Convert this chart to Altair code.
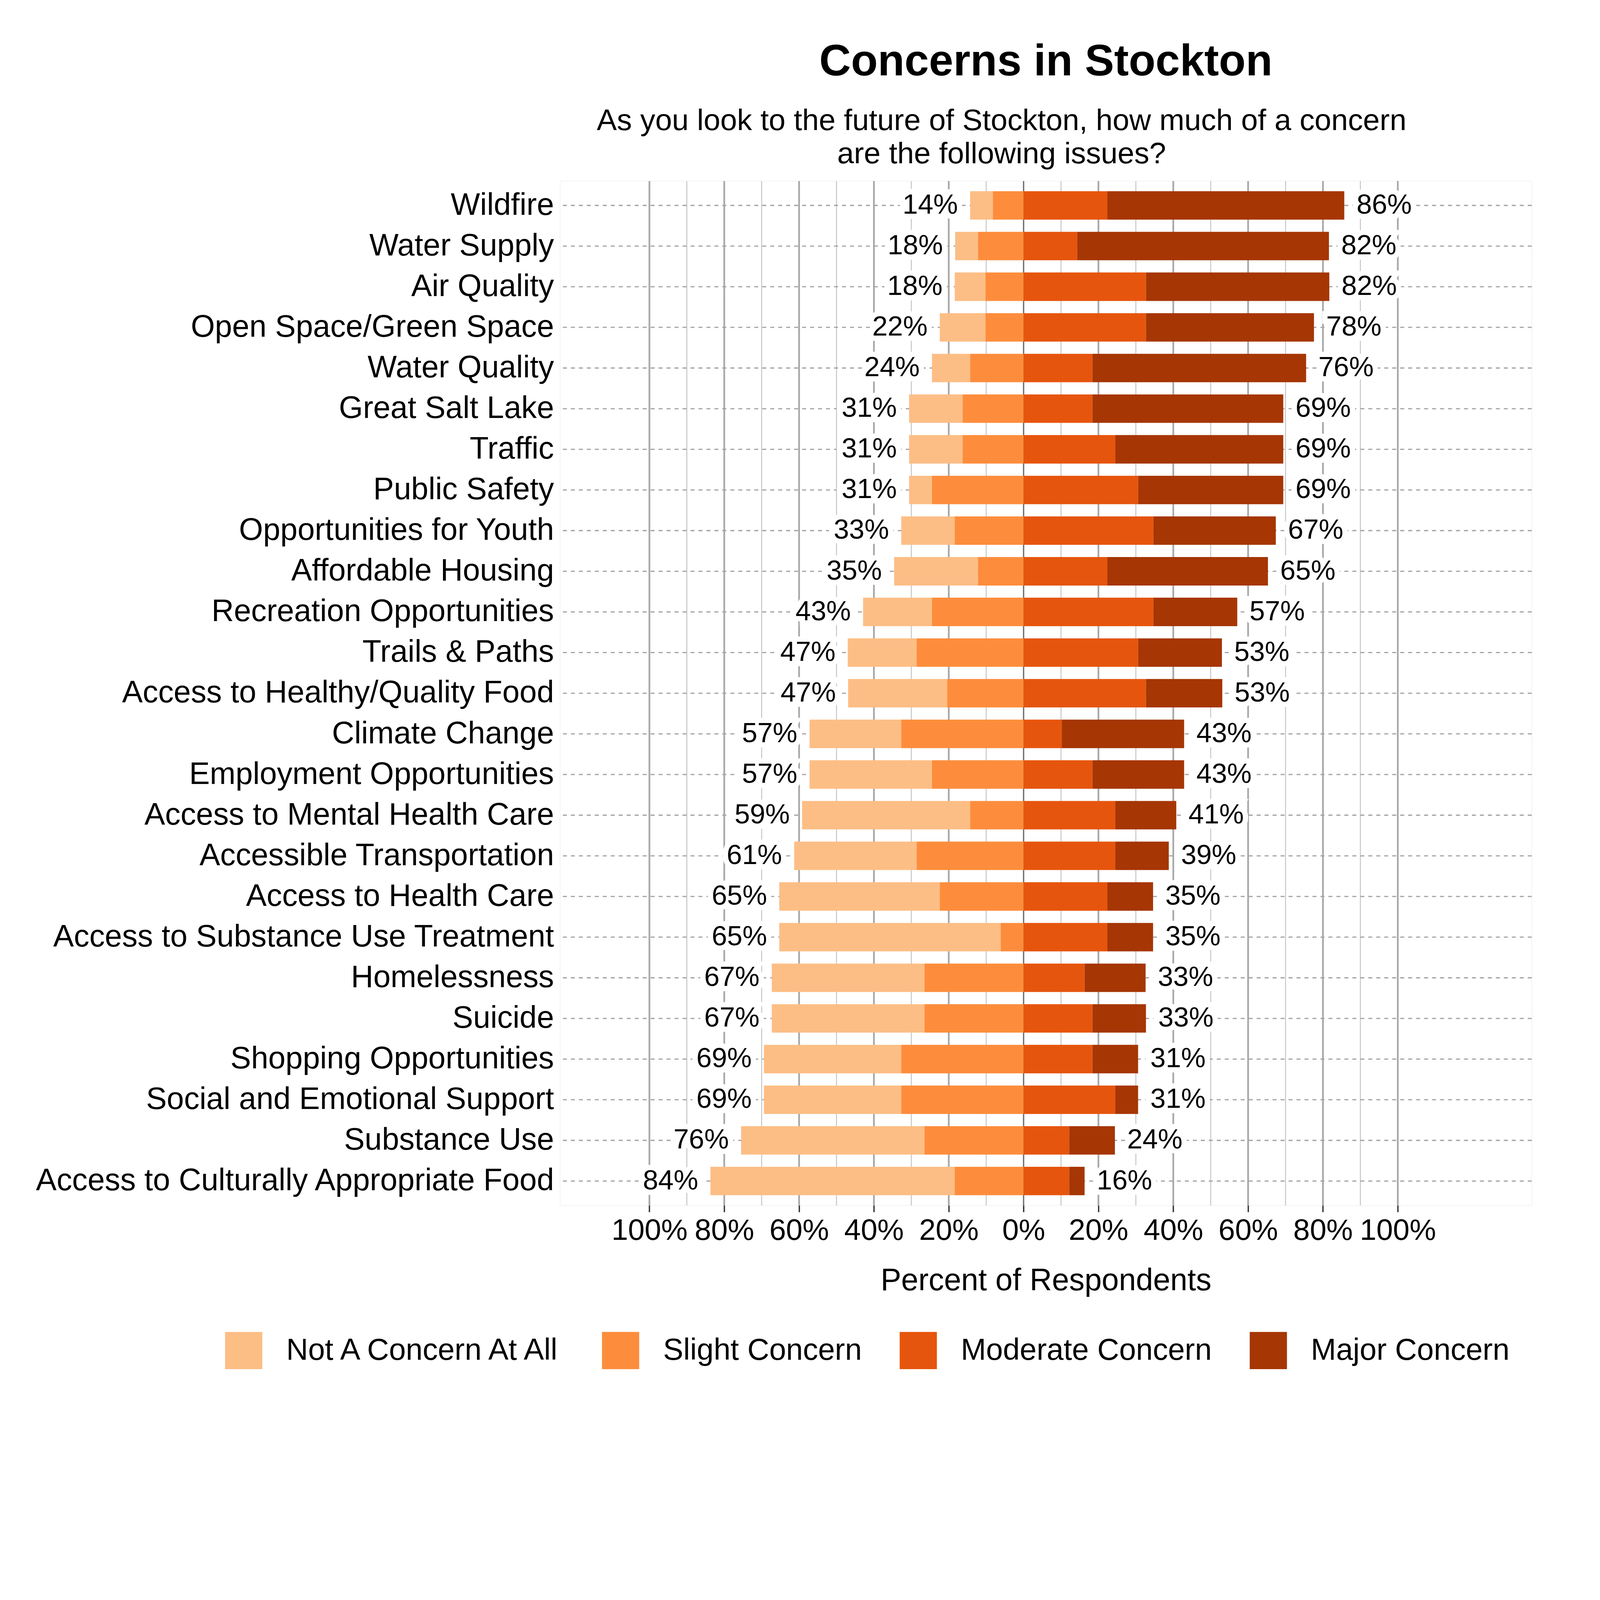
import altair as alt
import pandas as pd

categories = [
    "Wildfire", "Water Supply", "Air Quality", "Open Space/Green Space", "Water Quality",
    "Great Salt Lake", "Traffic", "Public Safety", "Opportunities for Youth", "Affordable Housing",
    "Recreation Opportunities", "Trails & Paths", "Access to Healthy/Quality Food", "Climate Change",
    "Employment Opportunities", "Access to Mental Health Care", "Accessible Transportation",
    "Access to Health Care", "Access to Substance Use Treatment", "Homelessness", "Suicide",
    "Shopping Opportunities", "Social and Emotional Support", "Substance Use",
    "Access to Culturally Appropriate Food",
]
not_concern = [6.1, 6.1, 8.2, 12.2, 10.2, 14.3, 14.3, 6.1, 14.3, 22.4, 18.4, 18.4, 26.5,
               24.5, 32.7, 44.9, 32.7, 42.9, 59.2, 40.8, 40.8, 36.7, 36.7, 49.0, 65.3]
slight = [8.2, 12.2, 10.2, 10.2, 14.3, 16.3, 16.3, 24.5, 18.4, 12.2, 24.5, 28.6, 20.4,
          32.7, 24.5, 14.3, 28.6, 22.4, 6.1, 26.5, 26.5, 32.7, 32.7, 26.5, 18.4]
moderate = [22.4, 14.3, 32.7, 32.7, 18.4, 18.4, 24.5, 30.6, 34.7, 22.4, 34.7, 30.6, 32.7,
            10.2, 18.4, 24.5, 24.5, 22.4, 22.4, 16.3, 18.4, 18.4, 24.5, 12.2, 12.2]
major = [63.3, 67.3, 49.0, 44.9, 57.1, 51.0, 44.9, 38.8, 32.7, 42.9, 22.4, 22.4, 20.4,
         32.7, 24.5, 16.3, 14.3, 12.2, 12.2, 16.3, 14.3, 12.2, 6.1, 12.2, 4.1]
left_labels = ["14%", "18%", "18%", "22%", "24%", "31%", "31%", "31%", "33%", "35%", "43%",
               "47%", "47%", "57%", "57%", "59%", "61%", "65%", "65%", "67%", "67%", "69%",
               "69%", "76%", "84%"]
right_labels = ["86%", "82%", "82%", "78%", "76%", "69%", "69%", "69%", "67%", "65%", "57%",
                "53%", "53%", "43%", "43%", "41%", "39%", "35%", "35%", "33%", "33%", "31%",
                "31%", "24%", "16%"]
levels = ["Not A Concern At All", "Slight Concern", "Moderate Concern", "Major Concern"]
level_colors = ["#FDBE85", "#FD8D3C", "#E6550D", "#A63603"]
major_ticks = [-100, -80, -60, -40, -20, 0, 20, 40, 60, 80, 100]
minor_ticks = [-90, -70, -50, -30, -10, 10, 30, 50, 70, 90]

title_text = "Concerns in Stockton"
subtitle_lines = [
    "As you look to the future of Stockton, how much of a concern",
    "are the following issues?",
]
x_title = "Percent of Respondents"

rows = []
for c, n, s, m, j in zip(categories, not_concern, slight, moderate, major):
    rows.append(dict(category=c, level=levels[0], x0=-(n + s), x1=-s))
    rows.append(dict(category=c, level=levels[1], x0=-s, x1=0.0))
    rows.append(dict(category=c, level=levels[2], x0=0.0, x1=m))
    rows.append(dict(category=c, level=levels[3], x0=m, x1=m + j))
bars_df = pd.DataFrame(rows)

lab_df = pd.DataFrame({
    "category": categories,
    "neg": [-(n + s) for n, s in zip(not_concern, slight)],
    "pos": [m + j for m, j in zip(moderate, major)],
    "ltxt": left_labels,
    "rtxt": right_labels,
})
major_df = pd.DataFrame({"v": [t for t in major_ticks if t != 0]})
minor_df = pd.DataFrame({"v": minor_ticks})
zero_df = pd.DataFrame({"v": [0]})

FONT = "Liberation Sans"
xscale = alt.Scale(domain=[-123.9, 135.8], nice=False, zero=False)
yscale = alt.Scale(domain=categories, paddingInner=0.3, paddingOuter=0.25)

xaxis = alt.Axis(
    values=major_ticks, labelExpr="abs(datum.value) + '%'", labelFontSize=112,
    labelColor="black", labelFont=FONT, labelLimit=1000, tickSize=25, tickWidth=5,
    tickColor="#333333", domain=False, grid=False, labelPadding=16, labelOverlap=False,
    labelFlush=False, title=x_title, titleFontSize=116, titleFontWeight="normal",
    titleColor="black", titleFont=FONT, titlePadding=75,
)
yaxis = alt.Axis(
    ticks=False, domain=False, grid=False, labelFontSize=116.5,
    labelColor="black", labelFont=FONT, labelPadding=23, labelLimit=3000,
    title=subtitle_lines, titleAngle=0, titleAlign="center", titleBaseline="alphabetic",
    titleX=1661, titleY=-192, titleFontSize=113, titleFontWeight="normal",
    titleColor="black", titleFont=FONT, titleLineHeight=125,
)


def X(field):
    return alt.X(field, type="quantitative", scale=xscale, axis=xaxis, title=x_title)


def Y():
    return alt.Y("category:N", scale=yscale, axis=yaxis, title=subtitle_lines)


grid_minor = alt.Chart(minor_df).mark_rule(color="#C4C4C4", strokeWidth=3.5).encode(x=X("v"))
grid_major = alt.Chart(major_df).mark_rule(color="#A8A8A8", strokeWidth=6.5).encode(x=X("v"))
grid_zero = alt.Chart(zero_df).mark_rule(color="#707070", strokeWidth=5).encode(x=X("v"))
hlines = alt.Chart(lab_df).mark_rule(
    color="#A3A3A3", strokeWidth=4.5, strokeDash=[15, 15]
).encode(y=Y())

bars = alt.Chart(bars_df).mark_bar().encode(
    y=Y(),
    x=X("x0"),
    x2="x1",
    color=alt.Color(
        "level:N",
        scale=alt.Scale(domain=levels, range=level_colors),
        legend=alt.Legend(
            orient="none", legendX=-1260, legendY=4330, direction="horizontal",
            columns=4, title=None, symbolType="square", symbolSize=19600,
            symbolStrokeWidth=0, symbolOpacity=1, labelFontSize=114, labelFont=FONT,
            labelColor="black", labelOffset=90, columnPadding=142, labelLimit=3000,
        ),
    ),
)

text_common = dict(fontSize=104, font=FONT, baseline="middle")
left_halo = alt.Chart(lab_df).mark_text(
    align="right", dx=-46, color="white", stroke="white", strokeWidth=40, **text_common
).encode(y=Y(), x=X("neg"), text="ltxt:N")
left_text = alt.Chart(lab_df).mark_text(
    align="right", dx=-46, color="black", **text_common
).encode(y=Y(), x=X("neg"), text="ltxt:N")
right_halo = alt.Chart(lab_df).mark_text(
    align="left", dx=46, color="white", stroke="white", strokeWidth=40, **text_common
).encode(y=Y(), x=X("pos"), text="rtxt:N")
right_text = alt.Chart(lab_df).mark_text(
    align="left", dx=46, color="black", **text_common
).encode(y=Y(), x=X("pos"), text="rtxt:N")

chart = alt.layer(
    grid_minor, grid_major, grid_zero, hlines, bars,
    left_halo, right_halo, left_text, right_text,
).properties(
    width=3656,
    height=3854,
    padding={"left": 116, "top": -875, "right": 242, "bottom": 200},
    title=alt.TitleParams(
        text=title_text, anchor="middle", frame="group", font=FONT, fontSize=165,
        fontWeight="bold", color="black", offset=80,
    ),
).configure_view(
    stroke="#ABABAB", strokeWidth=7
).configure(
    background="white"
)

chart.save("out.html", embed_options={"renderer": "svg", "actions": False})
